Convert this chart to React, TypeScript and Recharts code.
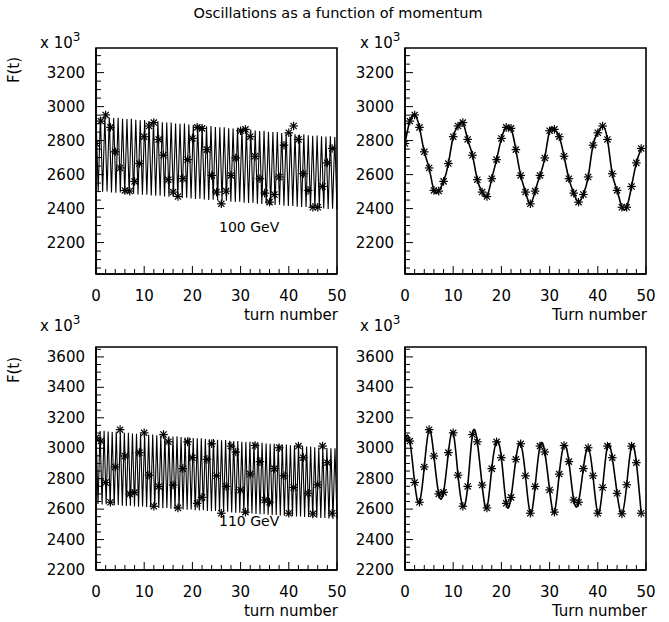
import React from 'react';
import { ComposedChart, Line, XAxis, YAxis, ReferenceArea } from 'recharts';

const FONT = '"DejaVu Sans", Verdana, sans-serif';

// ---------- data ----------
const turns = [0,1,2,3,4,5,6,7,8,9,10,11,12,13,14,15,16,17,18,19,20,21,22,23,24,25,26,27,28,29,30,31,32,33,34,35,36,37,38,39,40,41,42,43,44,45,46,47,48,49];

const xTicks = [0,2,4,6,8,10,12,14,16,18,20,22,24,26,28,30,32,34,36,38,40,42,44,46,48,50];
const yTicksTop = [2050,2100,2150,2200,2250,2300,2350,2400,2450,2500,2550,2600,2650,2700,2750,2800,2850,2900,2950,3000,3050,3100,3150,3200,3250,3300];
const yTicksBottom = [2200,2250,2300,2350,2400,2450,2500,2550,2600,2650,2700,2750,2800,2850,2900,2950,3000,3050,3100,3150,3200,3250,3300,3350,3400,3450,3500,3550,3600,3650];

// sampled values at each turn (100 GeV)
const stars100 = [2783,2915,2951,2878,2734,2639,2507,2503,2560,2665,2823,2886,2906,2807,2714,2570,2497,2471,2576,2688,2813,2878,2872,2747,2595,2497,2428,2503,2595,2698,2858,2866,2823,2708,2576,2491,2438,2483,2586,2773,2846,2886,2807,2605,2507,2408,2408,2530,2669,2754];
// sampled values at each turn (110 GeV)
const stars110 = [3068,3047,2775,2645,2877,3122,2949,2700,2710,2971,3101,2823,2619,2749,3090,3042,2758,2608,2866,3042,2938,2638,2677,2927,3029,2819,2573,2749,3014,2975,2726,2580,2830,3018,2912,2660,2645,2866,3003,2819,2573,2742,3014,2938,2704,2569,2760,3014,2905,2573];

// fast oscillation extrema (100 GeV)
const peaks100 = [2944,2940,2941,2936,2933,2934,2929,2927,2928,2922,2920,2921,2915,2913,2914,2908,2906,2907,2901,2899,2900,2894,2892,2893,2887,2885,2886,2880,2878,2879,2873,2871,2872,2866,2864,2865,2859,2857,2858,2852,2850,2851,2845,2843,2844,2838,2836,2837,2831,2829,2830,2826,2824,2825,2821];
const troughs100 = [2502,2499,2500,2495,2493,2494,2489,2487,2488,2483,2481,2482,2477,2475,2476,2471,2469,2470,2465,2463,2464,2459,2457,2458,2453,2451,2452,2447,2445,2446,2441,2439,2440,2435,2433,2434,2429,2427,2428,2423,2421,2422,2417,2415,2416,2411,2409,2410,2405,2403,2404,2400,2398,2399,2395];
// fast oscillation extrema (110 GeV)
const peaks110 = [3116,3113,3114,3109,3107,3108,3103,3101,3102,3097,3095,3096,3091,3089,3090,3085,3083,3084,3079,3077,3078,3073,3071,3072,3067,3065,3066,3061,3059,3060,3055,3053,3054,3049,3047,3048,3043,3041,3042,3037,3035,3036,3031,3029,3030,3025,3023,3024,3019,3017,3018,3013,3011,3012,3007,3005,3006,3001,2999,3000];
const troughs110 = [2634,2631,2632,2628,2626,2627,2623,2621,2622,2618,2616,2617,2613,2611,2612,2608,2606,2607,2603,2601,2602,2598,2596,2597,2593,2591,2592,2588,2586,2587,2583,2581,2582,2578,2576,2577,2573,2571,2572,2568,2566,2567,2563,2561,2562,2558,2556,2557,2553,2551,2552,2548,2546,2547,2543,2541,2542,2539,2537,2538];

const domainTop: [number, number] = [2015, 3345];
const domainBottom: [number, number] = [2200, 3665];

function buildStars(values: number[]) {
  return turns.map((t, i) => ({ t, v: values[i] }));
}
function buildFine(peaks: number[], troughs: number[]) {
  const rows: { k: number; f: number }[] = [];
  peaks.forEach((p, i) => {
    rows.push({ k: rows.length, f: p });
    rows.push({ k: rows.length, f: troughs[i] });
  });
  return rows;
}

// ---------- drawing helpers ----------
const StarDot = (props: any) => {
  const { cx, cy } = props;
  if (cx == null || cy == null) return null;
  const r = 4.3;
  const d = r * 0.72;
  return (
    <g stroke="#000" strokeWidth={1.2}>
      <line x1={cx - r} y1={cy} x2={cx + r} y2={cy} />
      <line x1={cx} y1={cy - r} x2={cx} y2={cy + r} />
      <line x1={cx - d} y1={cy - d} x2={cx + d} y2={cy + d} />
      <line x1={cx - d} y1={cy + d} x2={cx + d} y2={cy - d} />
    </g>
  );
};

const YTick = (props: any) => {
  const { x, y, payload } = props;
  const v = payload.value;
  const major = v % 200 === 0;
  return (
    <g>
      <line x1={x} x2={x + (major ? 8 : 5)} y1={y} y2={y} stroke="#000" strokeWidth={1} />
      {major && (
        <text x={x - 11} y={y} textAnchor="end" dominantBaseline="central" fontSize={15} fontFamily={FONT} fill="#000">
          {v}
        </text>
      )}
    </g>
  );
};

const XTick = (props: any) => {
  const { x, y, payload } = props;
  const v = payload.value;
  const major = v % 10 === 0;
  return (
    <g>
      <line x1={x} x2={x} y1={y} y2={y - (major ? 8 : 5)} stroke="#000" strokeWidth={1} />
      {major && (
        <text x={x} y={y + 22} textAnchor="middle" dominantBaseline="central" fontSize={15} fontFamily={FONT} fill="#000">
          {v}
        </text>
      )}
    </g>
  );
};

const AxisTitle = (text: string) => (props: any) => {
  const vb = props.viewBox || {};
  return (
    <text
      x={(vb.x || 0) + (vb.width || 0) + 1}
      y={(vb.y || 0) + 41}
      textAnchor="end"
      dominantBaseline="central"
      fontSize={15}
      fontFamily={FONT}
      fill="#000"
    >
      {text}
    </text>
  );
};

const FW = 241;
const ML = 70, MT = 10, MR = 10, MB = 54;
const frameStroke = { stroke: '#000', strokeWidth: 1.6 };

type PanelProps = {
  left: number;
  top: number;
  height: number;
  domain: [number, number];
  yTicks: number[];
  stars: { t: number; v: number }[];
  fine?: { k: number; f: number }[];
  smooth?: boolean;
  xTitle: string;
};

function Panel({ left, top, height, domain, yTicks, stars, fine, smooth, xTitle }: PanelProps) {
  return (
    <div style={{ position: 'absolute', left: left - ML, top: top - MT }}>
      <ComposedChart width={FW + ML + MR} height={height + MT + MB} margin={{ top: MT, right: MR, bottom: 0, left: 0 }}>
        <XAxis
          xAxisId="t"
          dataKey="t"
          type="number"
          domain={[0, 50]}
          ticks={xTicks}
          interval={0}
          allowDataOverflow
          tick={<XTick />}
          tickLine={false}
          tickSize={0}
          tickMargin={0}
          height={MB}
          axisLine={frameStroke}
          label={AxisTitle(xTitle)}
        />
        {fine && <XAxis xAxisId="fine" dataKey="k" type="number" domain={['dataMin', 'dataMax']} orientation="top" height={0} hide />}
        <YAxis
          yAxisId="v"
          type="number"
          domain={domain}
          ticks={yTicks}
          interval={0}
          allowDataOverflow
          tick={<YTick />}
          tickLine={false}
          tickSize={0}
          tickMargin={0}
          width={ML}
          axisLine={frameStroke}
        />
        <ReferenceArea
          xAxisId="t"
          yAxisId="v"
          x1={0}
          x2={50}
          y1={domain[0]}
          y2={domain[1]}
          fill="none"
          fillOpacity={0}
          stroke="#000"
          strokeWidth={1.6}
          ifOverflow="visible"
        />
        {fine && (
          <Line
            xAxisId="fine"
            yAxisId="v"
            data={fine}
            dataKey="f"
            type="linear"
            stroke="#000"
            strokeWidth={1.1}
            dot={false}
            isAnimationActive={false}
          />
        )}
        <Line
          xAxisId="t"
          yAxisId="v"
          data={stars}
          dataKey="v"
          type="natural"
          stroke={smooth ? '#000' : 'none'}
          strokeWidth={1.6}
          dot={<StarDot />}
          isAnimationActive={false}
        />
      </ComposedChart>
    </div>
  );
}

const txt: React.CSSProperties = { position: 'absolute', fontFamily: FONT, fontSize: 15, color: '#000', whiteSpace: 'nowrap', lineHeight: 1 };

function Exp({ left, top }: { left: number; top: number }) {
  return (
    <div style={{ ...txt, left, top }}>
      x 10<sup style={{ fontSize: 12, verticalAlign: 'top', position: 'relative', top: -5 }}>3</sup>
    </div>
  );
}

function FLabel({ cy }: { cy: number }) {
  return (
    <div style={{ ...txt, left: 14, top: cy, transform: 'translate(-50%, -50%) rotate(-90deg)' }}>F(t)</div>
  );
}

export default function App() {
  const s100 = buildStars(stars100);
  const s110 = buildStars(stars110);
  const f100 = buildFine(peaks100, troughs100);
  const f110 = buildFine(peaks110, troughs110);
  return (
    <div style={{ position: 'absolute', left: 0, top: 0, width: 669, height: 622, background: '#fff', overflow: 'hidden' }}>
      <div style={{ ...txt, left: 0, width: 676, top: 6, textAlign: 'center', fontSize: 14.5 }}>Oscillations as a function of momentum</div>

      <Exp left={40} top={36} />
      <Exp left={360} top={36} />
      <Exp left={40} top={319} />
      <Exp left={360} top={319} />
      <FLabel cy={70} />
      <FLabel cy={370} />

      <Panel left={96} top={48} height={226} domain={domainTop} yTicks={yTicksTop} stars={s100} fine={f100} xTitle="turn number" />
      <Panel left={405} top={48} height={226} domain={domainTop} yTicks={yTicksTop} stars={s100} smooth xTitle="Turn number" />
      <Panel left={96} top={347} height={223} domain={domainBottom} yTicks={yTicksBottom} stars={s110} fine={f110} xTitle="turn number" />
      <Panel left={405} top={347} height={223} domain={domainBottom} yTicks={yTicksBottom} stars={s110} smooth xTitle="Turn number" />

      <div style={{ ...txt, left: 219, top: 220, fontSize: 14 }}>100 GeV</div>
      <div style={{ ...txt, left: 219, top: 514, fontSize: 14 }}>110 GeV</div>
    </div>
  );
}
